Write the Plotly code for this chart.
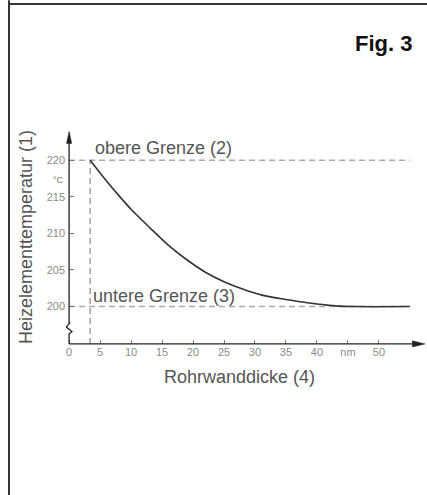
import plotly.graph_objects as go

# --- data ---
thickness = [3.4, 6, 8, 10, 13, 16, 19, 22, 25, 28, 31, 34, 37, 40, 43, 46, 55]
temperature = [220, 217.2, 215.2, 213.3, 210.8, 208.4, 206.4, 204.7, 203.4,
               202.4, 201.6, 201.1, 200.7, 200.35, 200.1, 200.0, 200.0]
upper_limit = 220
lower_limit = 200
min_thickness = 3.4
limit_end = 55
x_tickvals = [0, 5, 10, 15, 20, 25, 30, 35, 40, 45, 50]
x_ticktext = ["0", "5", "10", "15", "20", "25", "30", "35", "40", "nm", "50"]
y_tickvals = [200, 205, 210, 215, 220]
y_ticktext = ["200", "205", "210", "215", "220"]

FONT = "Liberation Sans, Arial, sans-serif"
X0, X1 = -0.5, 57.6
Y0, Y1 = 194.2, 224.0
X_AXIS_Y = 194.9
DASH = "#aaaaaa"
AXC = "#222222"

fig = go.Figure()
fig.add_trace(go.Scatter(x=thickness, y=temperature, mode="lines",
                         line=dict(color="#333333", width=1.6, shape="spline", smoothing=0.8),
                         hoverinfo="skip", showlegend=False))

shapes = [
    # limit lines
    dict(type="line", xref="x", yref="y", x0=0, x1=limit_end, y0=upper_limit, y1=upper_limit,
         line=dict(color=DASH, width=1.6, dash="6px,4px"), layer="below"),
    dict(type="line", xref="x", yref="y", x0=0, x1=limit_end, y0=lower_limit, y1=lower_limit,
         line=dict(color=DASH, width=1.6, dash="6px,4px"), layer="below"),
    dict(type="line", xref="x", yref="y", x0=min_thickness, x1=min_thickness, y0=X_AXIS_Y, y1=upper_limit,
         line=dict(color="#999999", width=1.4, dash="6px,4px"), layer="below"),
    # x axis line + arrow
    dict(type="line", xref="x", yref="y", x0=0, x1=56.5, y0=X_AXIS_Y, y1=X_AXIS_Y,
         line=dict(color=AXC, width=1.3)),
    dict(type="path", xref="x", yref="y",
         path=f"M 55.4,{X_AXIS_Y-0.42} L 57.45,{X_AXIS_Y} L 55.4,{X_AXIS_Y+0.42} Z",
         fillcolor=AXC, line=dict(color=AXC, width=0.5)),
    # y axis line with break + arrow
    dict(type="path", xref="x", yref="y",
         path=(f"M 0,{X_AXIS_Y} L 0,196.25 L 0.45,196.6 L -0.45,197.2 "
               f"L 0.1,197.75 L 0,197.8 L 0,222.6"),
         line=dict(color=AXC, width=1.3)),
    dict(type="path", xref="x", yref="y",
         path="M -0.42,222.3 L 0,223.95 L 0.42,222.3 Z",
         fillcolor=AXC, line=dict(color=AXC, width=0.5)),
    # page frame (left and top)
    dict(type="line", xref="paper", yref="paper", x0=-0.1583, x1=-0.1583, y0=-0.8, y1=1.6,
         line=dict(color="#333333", width=2)),
    dict(type="line", xref="paper", yref="paper", x0=-0.1583, x1=1.01, y0=1.5824, y1=1.5824,
         line=dict(color="#333333", width=2)),
]

W, H = 427, 495
ML, MR, MT, MB = 66, 1, 131, 146
PW = W - ML - MR
PH = H - MT - MB


def px(x):
    return (x - ML) / PW


def py(y):
    return (H - MB - y) / PH


annotations = [
    dict(text="Fig. 3", xref="paper", yref="paper", x=px(383), y=py(43),
         xanchor="center", yanchor="middle", showarrow=False,
         font=dict(family=FONT, size=22, color="#111111", weight="bold")),
    dict(text="Rohrwanddicke (4)", xref="paper", yref="paper", x=px(239), y=py(377),
         xanchor="center", yanchor="middle", showarrow=False,
         font=dict(family=FONT, size=18, color="#555555")),
    dict(text="Heizelementtemperatur (1)", xref="paper", yref="paper", x=px(26), y=py(237),
         xanchor="center", yanchor="middle", showarrow=False, textangle=-90,
         font=dict(family=FONT, size=18, color="#555555")),
    dict(text="obere Grenze (2)", xref="x", yref="y", x=3.9, y=221.7,
         xanchor="left", yanchor="middle", showarrow=False,
         font=dict(family=FONT, size=18, color="#555555")),
    dict(text="untere Grenze (3)", xref="x", yref="y", x=3.6, y=201.5,
         xanchor="left", yanchor="middle", showarrow=False,
         font=dict(family=FONT, size=18, color="#555555")),
    dict(text="°C", xref="paper", yref="paper", x=px(58), y=py(180),
         xanchor="center", yanchor="middle", showarrow=False,
         font=dict(family=FONT, size=9, color="#777777")),
]

fig.update_layout(
    width=W, height=H,
    margin=dict(l=ML, r=MR, t=MT, b=MB),
    paper_bgcolor="white", plot_bgcolor="white",
    shapes=shapes, annotations=annotations,
    showlegend=False,
    xaxis=dict(range=[X0, X1], showgrid=False, zeroline=False, showline=False,
               tickmode="array", tickvals=x_tickvals, ticktext=x_ticktext,
               ticks="inside", ticklen=4, tickcolor="#777777", tickwidth=1,
               anchor="free", position=(X_AXIS_Y - Y0) / (Y1 - Y0),
               tickfont=dict(family=FONT, size=11, color="#8a8a8a")),
    yaxis=dict(range=[Y0, Y1], showgrid=False, zeroline=False, showline=False,
               tickmode="array", tickvals=y_tickvals, ticktext=y_ticktext,
               ticks="inside", ticklen=4, tickcolor="#777777", tickwidth=1,
               anchor="free", position=(0 - X0) / (X1 - X0), ticklabelstandoff=4,
               tickfont=dict(family=FONT, size=11, color="#8a8a8a")),
)

fig.write_html("out.html", config={"displayModeBar": False},
               post_script="document.body.style.margin='0';document.body.style.overflow='hidden';")
